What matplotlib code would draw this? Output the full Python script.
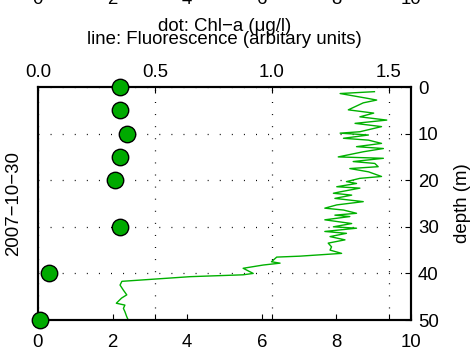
import matplotlib
matplotlib.use("Agg")
import matplotlib.pyplot as plt
import matplotlib.transforms as mtransforms

plt.rcParams['font.family'] = ['Liberation Sans', 'DejaVu Sans']
plt.rcParams['lines.scale_dashes'] = False

# chlorophyll samples (dots, top axis)
chl_depth = [0, 5, 10, 15, 20, 30, 40, 50]
chl_value = [0.35, 0.35, 0.38, 0.35, 0.33, 0.35, 0.045, 0.01]

# fluorescence profile (line, bottom axis)
fl_depth = [1.0, 1.4, 2.4, 2.8, 3.4, 4.9, 5.6, 6.4, 7.1, 7.8, 8.5, 9.6, 9.9,
            10.3, 11.0, 11.4, 12.1, 12.8, 13.2, 13.9, 15.0, 15.3, 16.0, 16.4,
            17.1, 17.5, 18.2, 19.2, 19.6, 20.3, 20.7, 21.4, 21.7, 22.5, 22.8,
            23.2, 23.9, 24.6, 25.3, 26.0, 26.4, 27.1, 27.5, 27.8, 28.5, 29.3,
            30.0, 30.3, 31.0, 31.4, 32.1, 32.8, 33.5, 34.3, 35.0, 35.7, 36.3,
            36.5, 37.5, 37.8, 38.2, 38.9, 40.0, 40.3, 40.7, 41.7, 42.5, 43.6,
            44.6, 45.3, 46.4, 46.8, 47.5, 48.2, 49.3, 50.0]
fl_value = [9.02, 8.10, 8.81, 9.08, 8.72, 8.32, 9.00, 8.63, 9.35, 8.50, 9.21,
            8.63, 8.10, 8.86, 8.19, 8.86, 9.21, 8.54, 9.26, 8.72, 8.05, 9.26,
            8.45, 9.03, 9.12, 8.36, 8.86, 9.21, 8.63, 8.27, 8.54, 8.01, 8.63,
            8.10, 7.92, 8.41, 7.96, 8.72, 8.01, 7.69, 8.19, 8.54, 7.96, 8.36,
            7.69, 8.41, 7.92, 8.54, 7.69, 8.27, 7.83, 8.23, 7.78, 7.87, 7.83,
            8.14, 7.02, 6.40, 6.26, 6.49, 6.04, 5.50, 5.77, 5.50, 4.08, 2.25,
            2.20, 2.29, 2.38, 2.24, 2.10, 2.33, 2.29, 2.33, 2.38, 2.42]

fl_ticks = [0, 2, 4, 6, 8, 10]
chl_ticks = [0, 0.5, 1, 1.5]
depth_ticks = [0, 10, 20, 30, 40, 50]

fs = 13.4
fig = plt.figure(figsize=(4.73, 3.56), dpi=100)
ax = fig.add_axes([0.0803, 0.1011, 0.7886, 0.6545])

ax.plot(fl_value, fl_depth, color='#00b000', lw=1.0, zorder=2)
ax.set_xlim(0, 10)
ax.set_ylim(50, 0)
ax.set_xticks(fl_ticks)
ax.set_yticks(depth_ticks)
ax.yaxis.tick_right()
ax.yaxis.set_label_position('right')
ax.set_ylabel('depth (m)', fontsize=fs, labelpad=11)
ax.tick_params(axis='x', direction='in', top=True, bottom=True, length=4,
               labelsize=fs, pad=10)
ax.tick_params(axis='y', direction='in', right=True, left=False, length=4,
               labelsize=fs, pad=5)
ax.grid(axis='y', color='black', lw=0.9, linestyle=(0, (0.7, 8)))

ax2 = ax.twiny()
ax2.set_xlim(0, 1.594)
ax2.set_xticks(chl_ticks)
ax2.tick_params(axis='x', direction='in', top=True, bottom=True,
                labelbottom=False, length=4, labelsize=fs, pad=4)
ax2.grid(axis='x', color='black', lw=0.9, linestyle=(0, (0.7, 8)))
ax2.scatter(chl_value, chl_depth, s=140, color='#00aa00', edgecolor='black',
            linewidth=1.0, zorder=5, clip_on=False)

for a in (ax, ax2):
    for sp in a.spines.values():
        sp.set_linewidth(1.5)

ax.set_zorder(1)
ax2.set_zorder(2)
ax2.patch.set_visible(False)

# titles
fig.text(0.4746, 1 - 31 / 356, 'dot: Chl\u2212a (\u03bcg/l)', ha='center',
         va='baseline', fontsize=fs)
fig.text(0.4746, 1 - 44 / 356, 'line: Fluorescence (arbitary units)',
         ha='center', va='baseline', fontsize=fs)

# left label
fig.text(14 / 473, 0.5 * (0.1011 + 0.7556), '2007\u221210\u221230',
         rotation=90, ha='center', va='center', fontsize=fs)

# cut-off tick labels of the panel above
trans = mtransforms.blended_transform_factory(ax.transData, fig.transFigure)
for t in fl_ticks:
    fig.text(t, 1 - 4 / 356, str(t), transform=trans, ha='center',
             va='baseline', fontsize=fs)

fig.savefig('out.png', dpi=100)
